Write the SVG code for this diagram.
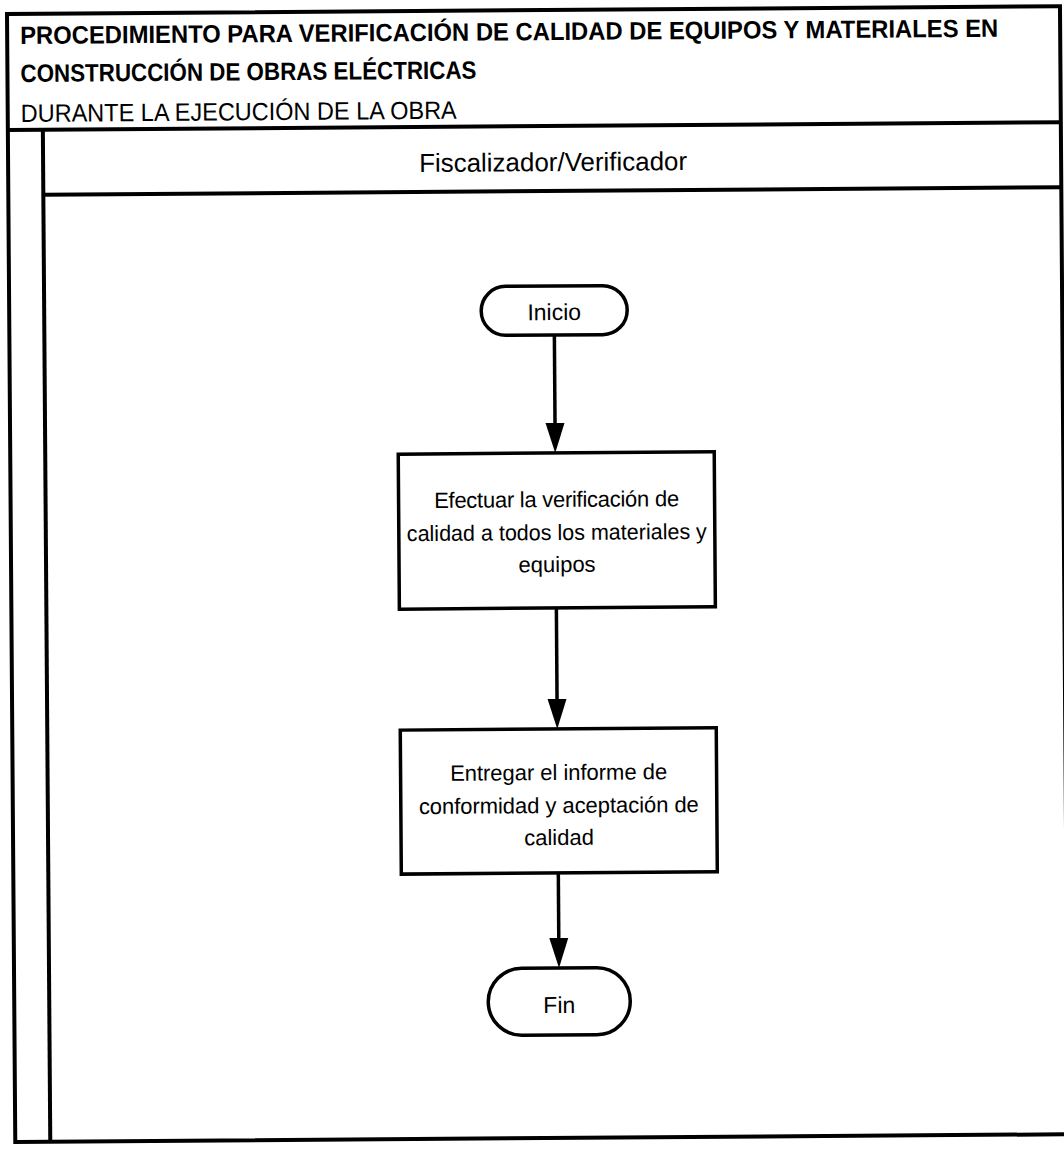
<svg xmlns="http://www.w3.org/2000/svg" width="1064" height="1151" viewBox="0 0 1064 1151">
<style>
.frame{fill:none;stroke:#000;stroke-width:4}
.node{fill:#fff;stroke:#000;stroke-width:3.5}
.conn{fill:none;stroke:#000;stroke-width:3.5}
.t{font-family:"Liberation Sans",Arial,sans-serif;fill:#000}
.title{font-size:25px;font-weight:bold}
.sub{font-size:25px}
.lane{font-size:26px}
.lbl{font-size:22px;text-anchor:middle}
.term{font-size:23px;text-anchor:middle}
</style>
<defs>
<marker id="arr" markerUnits="userSpaceOnUse" markerWidth="30" markerHeight="20" refX="22" refY="10" orient="auto">
<path d="M0,0.5 L30,10 L0,19.5 z" fill="#000"/>
</marker>
</defs>
<rect width="1064" height="1151" fill="#fff"/>
<g transform="rotate(-0.42 7 14)">
<g id="frame">
<rect class="frame" x="7" y="14" width="1053" height="1128"/>
<line class="frame" x1="7" y1="130" x2="1060" y2="130"/>
<line class="frame" x1="42" y1="130" x2="42" y2="1142"/>
<line class="frame" x1="42" y1="195" x2="1060" y2="195"/>
<text class="t title" x="20" y="44" textLength="978" lengthAdjust="spacingAndGlyphs">PROCEDIMIENTO PARA VERIFICACIÓN DE CALIDAD DE EQUIPOS Y MATERIALES EN</text>
<text class="t title" x="20" y="82" textLength="456" lengthAdjust="spacingAndGlyphs">CONSTRUCCIÓN DE OBRAS ELÉCTRICAS</text>
<text class="t sub" x="20" y="122" textLength="436" lengthAdjust="spacingAndGlyphs">DURANTE LA EJECUCIÓN DE LA OBRA</text>
<text class="t lane" x="552" y="175" text-anchor="middle" textLength="268" lengthAdjust="spacingAndGlyphs">Fiscalizador/Verificador</text>
</g>
<g id="connectors">
<line class="conn" x1="552" y1="339" x2="552" y2="449" marker-end="url(#arr)"/>
<line class="conn" x1="552" y1="612" x2="552" y2="725" marker-end="url(#arr)"/>
<line class="conn" x1="552" y1="877" x2="552" y2="964" marker-end="url(#arr)"/>
</g>
<g id="inicio">
<rect class="node" x="479" y="290" width="146" height="49" rx="24.5"/>
<text class="t term" x="552" y="324">Inicio</text>
</g>
<g id="efectuar">
<rect class="node" x="395" y="457" width="316" height="155"/>
<text class="t lbl" x="553" y="511" textLength="245" lengthAdjust="spacing">Efectuar la verificación de</text>
<text class="t lbl" x="553" y="544" textLength="300" lengthAdjust="spacingAndGlyphs">calidad a todos los materiales y</text>
<text class="t lbl" x="553" y="576">equipos</text>
</g>
<g id="entregar">
<rect class="node" x="395" y="733" width="316" height="144"/>
<text class="t lbl" x="553" y="784" textLength="217" lengthAdjust="spacing">Entregar el informe de</text>
<text class="t lbl" x="553" y="817" textLength="280" lengthAdjust="spacing">conformidad y aceptación de</text>
<text class="t lbl" x="553" y="849">calidad</text>
</g>
<g id="fin">
<rect class="node" x="481" y="972" width="142" height="67" rx="33.5"/>
<text class="t term" x="552" y="1017">Fin</text>
</g>
</g>
</svg>
